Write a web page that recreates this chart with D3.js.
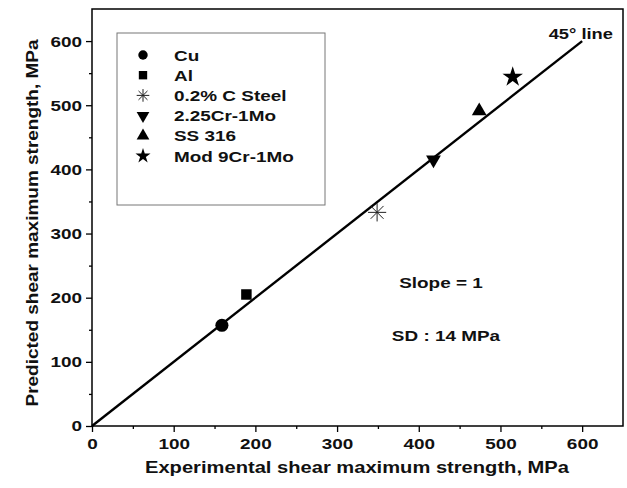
<!DOCTYPE html>
<html><head><meta charset="utf-8">
<script src="https://cdn.jsdelivr.net/npm/d3@7"></script>
<style>
html,body{margin:0;padding:0;background:#fff;}
text{font-family:"Liberation Sans",Arial,Helvetica,sans-serif;font-weight:bold;fill:#111;}
</style></head>
<body><svg id="c" width="627" height="488"></svg>
<script>
const materials = ["Cu","Al","0.2% C Steel","2.25Cr-1Mo","SS 316","Mod 9Cr-1Mo"];
const experimental = [159, 189, 349, 418, 474, 515];
const predicted = [157, 205, 333, 415, 491, 544];
const lineX = [0, 600];
const tickValues = [0,100,200,300,400,500,600];
const minorTicks = [50,150,250,350,450,550];
const xTitle = "Experimental shear maximum strength, MPa";
const yTitle = "Predicted shear maximum strength, MPa";
const notes = ["Slope = 1","SD : 14 MPa"];
const lineLabel = "45\u00b0 line";

const svg = d3.select("#c");
const L=92, R=623, T=9, B=426;
const x = d3.scaleLinear().domain([0,650]).range([L,R]);
const y = d3.scaleLinear().domain([0,650]).range([B,T]);
const K = 1.22; // horizontal stretch of the reference's type
function stretch(sel,k){sel.each(function(){const w=this.getComputedTextLength();d3.select(this).attr("textLength",w*k).attr("lengthAdjust","spacingAndGlyphs");});}

const asterisk = {draw(ctx,size){const r=Math.sqrt(size)/2;for(let i=0;i<4;i++){const a=i*Math.PI/4;ctx.moveTo(-r*Math.cos(a),-r*Math.sin(a));ctx.lineTo(r*Math.cos(a),r*Math.sin(a));}}};
const shapes = [
 {type:d3.symbolCircle, size:135, lsize:70, rot:0, fill:"#000"},
 {type:d3.symbolSquare, size:110, lsize:70, rot:0, fill:"#000"},
 {type:asterisk, size:330, lsize:160, rot:0, fill:"none", stroke:true},
 {type:d3.symbolTriangle, size:95, lsize:70, rot:180, fill:"#000"},
 {type:d3.symbolTriangle, size:95, lsize:70, rot:0, fill:"#000"},
 {type:d3.symbolStar, size:130, lsize:70, rot:0, fill:"#000"}
];

const xAxis = d3.axisBottom(x).tickValues(tickValues).tickSize(6).tickPadding(4).tickFormat(d3.format("d"));
const yAxis = d3.axisLeft(y).tickValues(tickValues).tickSize(6).tickPadding(4).tickFormat(d3.format("d"));
const gx = svg.append("g").attr("transform",`translate(0,${B})`).call(xAxis);
const gy = svg.append("g").attr("transform",`translate(${L},0)`).call(yAxis);
svg.append("g").attr("transform",`translate(0,${B})`).call(d3.axisBottom(x).tickValues(minorTicks).tickSize(3).tickFormat(""));
svg.append("g").attr("transform",`translate(${L},0)`).call(d3.axisLeft(y).tickValues(minorTicks).tickSize(3).tickFormat(""));
svg.selectAll(".domain").remove();
svg.selectAll(".tick line").attr("stroke","#000").attr("stroke-width",1.3);
[gx,gy].forEach(g=>g.selectAll("text").style("font-size","15.5px").style("font-family","'Liberation Sans',Arial,sans-serif").style("font-weight","bold").attr("fill","#111"));
gx.selectAll("text").attr("dy","0.85em");
stretch(gx.selectAll("text"),K); stretch(gy.selectAll("text"),K);

svg.append("rect").attr("x",L).attr("y",T).attr("width",R-L).attr("height",B-T)
 .attr("fill","none").attr("stroke","#000").attr("stroke-width",1.5);

svg.append("line").attr("x1",x(lineX[0])).attr("y1",y(lineX[0])).attr("x2",x(lineX[1])).attr("y2",y(lineX[1]))
 .attr("stroke","#000").attr("stroke-width",2.4);

svg.append("g").selectAll("path").data(materials).join("path")
 .attr("transform",(d,i)=>`translate(${x(experimental[i])},${y(predicted[i])}) rotate(${shapes[i].rot})`)
 .attr("d",(d,i)=>d3.symbol(shapes[i].type, shapes[i].size)())
 .attr("fill",(d,i)=>shapes[i].fill)
 .attr("stroke",(d,i)=>shapes[i].stroke?"#222":"none")
 .attr("stroke-width",1);

const lg = svg.append("g");
lg.append("rect").attr("x",117).attr("y",33).attr("width",208).attr("height",172)
 .attr("fill","#fff").attr("stroke","#777").attr("stroke-width",1);
const rows = lg.selectAll("g.row").data(materials).join("g").attr("class","row")
 .attr("transform",(d,i)=>`translate(0,${55+i*20.2})`);
rows.append("path")
 .attr("transform",(d,i)=>`translate(143,0) rotate(${shapes[i].rot})`)
 .attr("d",(d,i)=>d3.symbol(shapes[i].type, shapes[i].lsize)())
 .attr("fill",(d,i)=>shapes[i].fill)
 .attr("stroke",(d,i)=>shapes[i].stroke?"#222":"none").attr("stroke-width",1);
stretch(rows.append("text").attr("x",174).attr("y",0).attr("dy","0.36em").style("font-size","15.5px").text(d=>d),K);

stretch(svg.append("text").attr("x",613).attr("y",39).attr("text-anchor","end").style("font-size","15px").text(lineLabel),K);
stretch(svg.append("text").attr("x",441).attr("y",288).attr("text-anchor","middle").style("font-size","15.5px").text(notes[0]),K);
stretch(svg.append("text").attr("x",446).attr("y",341).attr("text-anchor","middle").style("font-size","15.5px").text(notes[1]),K);

stretch(svg.append("text").attr("x",357).attr("y",473).attr("text-anchor","middle").style("font-size","16.5px").text(xTitle),K);
stretch(svg.append("text").attr("transform","translate(38,223) rotate(-90)").attr("text-anchor","middle").style("font-size","16.5px").text(yTitle),1.15);
</script></body></html>
